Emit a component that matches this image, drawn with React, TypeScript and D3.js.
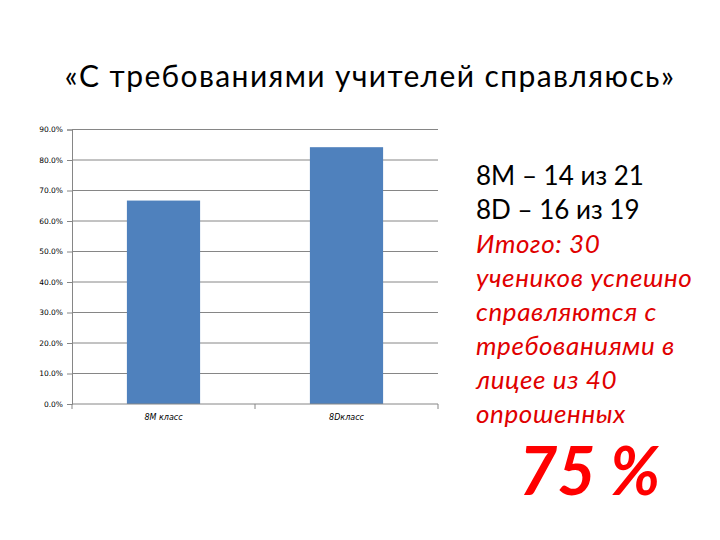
import React, { useEffect, useRef } from 'react';
import * as d3 from 'd3';

const title = '«С требованиями учителей справляюсь»';
const categories = ['8M класс', '8Dкласс'];
const values = [0.667, 0.842];
const yTicks = [0, 0.1, 0.2, 0.3, 0.4, 0.5, 0.6, 0.7, 0.8, 0.9];
const blackLines = ['8M – 14 из 21', '8D – 16 из 19'];
const redLines = ['Итого: 30', 'учеников успешно', 'справляются с', 'требованиями в', 'лицее из 40', 'опрошенных'];
const bigText = '75 %';

const App: React.FC = () => {
  const ref = useRef<SVGSVGElement>(null);

  useEffect(() => {
    if (!ref.current) return;
    const svg = d3.select(ref.current);
    svg.selectAll('*').remove();

    const left = 72;
    const right = 438;
    const top = 129.5;
    const bottom = 404;

    // title
    svg.append('text')
      .attr('x', 370)
      .attr('y', 87)
      .attr('text-anchor', 'middle')
      .attr('font-family', 'Lato, sans-serif')
      .attr('font-size', 30)
      .attr('letter-spacing', 1.4)
      .attr('fill', '#000')
      .text(title);

    const y = d3.scaleLinear().domain([0, 0.9]).range([bottom, top]);
    const xOuter = d3.scaleBand().domain(categories).range([left, right]).padding(0);
    const x = d3.scaleBand().domain(categories).range([left, right]).paddingInner(0.6).paddingOuter(0.3);

    // gridlines
    svg.append('g')
      .selectAll('line')
      .data(yTicks.slice(1))
      .enter().append('line')
      .attr('x1', left)
      .attr('x2', right)
      .attr('y1', (d) => y(d))
      .attr('y2', (d) => y(d))
      .attr('stroke', '#868686')
      .attr('stroke-width', 1);

    // bars
    svg.append('g')
      .selectAll('rect')
      .data(values)
      .enter().append('rect')
      .attr('x', (_d, i) => x(categories[i]) || 0)
      .attr('y', (d) => y(d))
      .attr('width', x.bandwidth())
      .attr('height', (d) => bottom - y(d))
      .attr('fill', '#4f81bd');

    // y axis
    const yAxis = d3.axisLeft(y)
      .tickValues(yTicks)
      .tickFormat(d3.format('.1%'))
      .tickSize(5)
      .tickPadding(4);
    const gy = svg.append('g').attr('transform', `translate(${left},0)`).call(yAxis);
    gy.select('.domain').attr('stroke', '#868686');
    gy.selectAll('line').attr('stroke', '#868686');
    gy.selectAll('text')
      .attr('font-family', 'DejaVu Sans, sans-serif')
      .attr('font-size', 7.5)
      .attr('fill', '#000');

    // x axis
    const gx = svg.append('g').attr('transform', `translate(0,${bottom})`);
    gx.append('line')
      .attr('x1', left).attr('x2', right)
      .attr('y1', 0).attr('y2', 0)
      .attr('stroke', '#868686');
    const boundaries = [left, ...categories.map((c) => (xOuter(c) || 0) + xOuter.bandwidth())];
    gx.selectAll('line.tick')
      .data(boundaries)
      .enter().append('line')
      .attr('class', 'tick')
      .attr('x1', (d) => d).attr('x2', (d) => d)
      .attr('y1', 0).attr('y2', 5)
      .attr('stroke', '#868686');
    gx.selectAll('text')
      .data(categories)
      .enter().append('text')
      .attr('x', (d) => (x(d) || 0) + x.bandwidth() / 2)
      .attr('y', 16)
      .attr('text-anchor', 'middle')
      .attr('font-family', 'DejaVu Sans, sans-serif')
      .attr('font-style', 'italic')
      .attr('font-size', 8)
      .attr('fill', '#000')
      .text((d) => d);

    // side notes
    const notes = svg.append('g')
      .attr('font-family', 'Lato, sans-serif')
      .attr('font-size', 26);
    blackLines.forEach((t, i) => {
      notes.append('text').attr('x', 476).attr('y', 185 + i * 34).attr('fill', '#000').text(t);
    });
    redLines.forEach((t, i) => {
      notes.append('text')
        .attr('x', 476)
        .attr('y', 185 + (i + 2) * 34)
        .attr('fill', '#e00000')
        .attr('font-style', 'italic')
        .attr('letter-spacing', 0.6)
        .text(t);
    });

    svg.append('text')
      .attr('x', 519)
      .attr('y', 495)
      .attr('font-family', 'Lato, sans-serif')
      .attr('font-size', 66)
      .attr('font-weight', 'bold')
      .attr('font-style', 'italic')
      .attr('fill', '#ff0000')
      .text(bigText);
  }, []);

  return (
    <svg
      ref={ref}
      width={720}
      height={540}
      style={{ position: 'absolute', left: 0, top: 0, background: '#fff' }}
    />
  );
};

export default App;
